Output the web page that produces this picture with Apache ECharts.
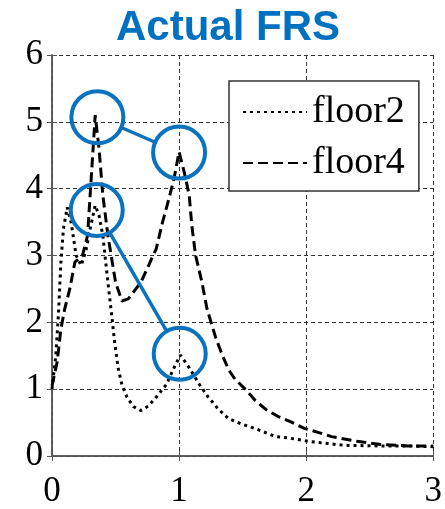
<!DOCTYPE html>
<html>
<head>
<meta charset="utf-8">
<script src="https://cdn.jsdelivr.net/npm/echarts@6/dist/echarts.min.js"></script>
<style>
html,body{margin:0;padding:0;background:#fff;}
#chart{width:445px;height:509px;}
</style>
</head>
<body>
<div id="chart"></div>
<script>
// Period / frequency axis (x) and spectral values (y)
const floor2X = [0, 0.03, 0.05, 0.07, 0.09, 0.12, 0.15, 0.19, 0.23, 0.27, 0.30, 0.34, 0.37, 0.40, 0.44, 0.47, 0.49, 0.52, 0.55, 0.59, 0.64, 0.70, 0.76, 0.82, 0.90, 0.96, 1.01, 1.08, 1.16, 1.23, 1.31, 1.39, 1.49, 1.60, 1.76, 1.86, 2.02, 2.15, 2.30, 2.60, 2.80, 3.00];
const floor2Y = [1.0, 1.5, 2.1, 2.9, 3.4, 3.72, 3.5, 3.0, 2.85, 3.1, 3.4, 3.75, 3.6, 3.3, 2.6, 2.1, 1.75, 1.32, 1.07, 0.88, 0.74, 0.68, 0.75, 0.88, 1.07, 1.32, 1.51, 1.32, 1.07, 0.88, 0.70, 0.56, 0.48, 0.41, 0.29, 0.27, 0.22, 0.19, 0.16, 0.15, 0.15, 0.14];
const floor4X = [0, 0.04, 0.07, 0.10, 0.14, 0.18, 0.24, 0.28, 0.31, 0.34, 0.37, 0.40, 0.44, 0.50, 0.55, 0.60, 0.70, 0.76, 0.82, 0.87, 0.92, 0.96, 1.00, 1.04, 1.08, 1.10, 1.13, 1.18, 1.22, 1.29, 1.34, 1.39, 1.44, 1.52, 1.60, 1.68, 1.78, 1.88, 1.99, 2.10, 2.20, 2.40, 2.60, 2.80, 3.00];
const floor4Y = [1.05, 1.4, 1.9, 2.2, 2.5, 2.9, 3.0, 3.3, 4.2, 5.1, 4.6, 3.9, 3.3, 2.6, 2.32, 2.35, 2.6, 2.85, 3.1, 3.5, 3.85, 4.15, 4.55, 4.25, 3.9, 3.45, 3.0, 2.6, 2.2, 1.76, 1.51, 1.29, 1.15, 1.0, 0.83, 0.70, 0.59, 0.51, 0.41, 0.35, 0.29, 0.22, 0.17, 0.15, 0.15];
const seriesNames = ['floor2', 'floor4'];
const xTicks = [0, 1, 2, 3];
const yTicks = [0, 1, 2, 3, 4, 5, 6];
// Highlight circles: [x1, y1, x2, y2] pairs joined by a connector
const highlightPairs = [
  [0.357, 5.07, 1.0, 4.54],
  [0.352, 3.68, 1.005, 1.53]
];

const pairs = (xs, ys) => xs.map((x, i) => [x, ys[i]]);
const serif = '"Liberation Serif", "DejaVu Serif", serif';
const axisCol = '#555';

const chart = echarts.init(document.getElementById('chart'), null, {renderer: 'canvas'});
chart.setOption({
  animation: false,
  backgroundColor: '#fff',
  title: {
    text: 'Actual FRS',
    left: 116, top: 7, padding: 0,
    textStyle: {color: '#0070C0', fontFamily: '"Liberation Sans", Arial, sans-serif', fontWeight: 'bold', fontSize: 42}
  },
  grid: {left: 52, top: 55, right: 8, bottom: 46, containLabel: false},
  legend: {
    left: 229, top: 81,
    orient: 'vertical',
    data: seriesNames,
    itemWidth: 64, itemHeight: 2, itemGap: 11,
    padding: [11, 14, 8, 13],
    borderColor: '#333', borderWidth: 1.5,
    backgroundColor: '#fff',
    itemStyle: {opacity: 0},
    textStyle: {fontFamily: serif, fontSize: 38, color: '#000', lineHeight: 40}
  },
  xAxis: [{
    type: 'value', min: xTicks[0], max: xTicks[xTicks.length - 1], interval: 1,
    axisLine: {show: true, lineStyle: {color: axisCol, width: 1.5}},
    axisTick: {show: true, inside: true, length: 5, lineStyle: {color: axisCol}},
    axisLabel: {show: true, fontFamily: serif, fontSize: 35, color: '#000', margin: 18},
    splitLine: {show: true, lineStyle: {color: '#333', width: 1, type: [4, 3]}}
  }, {
    type: 'value', position: 'top', min: xTicks[0], max: xTicks[xTicks.length - 1], interval: 1,
    axisLine: {show: true, lineStyle: {color: axisCol, width: 1.5}},
    axisTick: {show: true, inside: true, length: 5, lineStyle: {color: axisCol}},
    axisLabel: {show: false}, splitLine: {show: false}
  }],
  yAxis: [{
    type: 'value', min: yTicks[0], max: yTicks[yTicks.length - 1], interval: 1,
    axisLine: {show: true, lineStyle: {color: axisCol, width: 1.5}},
    axisTick: {show: true, inside: true, length: 5, lineStyle: {color: axisCol}},
    axisLabel: {show: true, fontFamily: serif, fontSize: 35, color: '#000', margin: 9},
    splitLine: {show: true, lineStyle: {color: '#333', width: 1, type: [4, 3]}}
  }, {
    type: 'value', position: 'right', min: yTicks[0], max: yTicks[yTicks.length - 1], interval: 1,
    axisLine: {show: true, lineStyle: {color: axisCol, width: 1.5}},
    axisTick: {show: true, inside: true, length: 5, lineStyle: {color: axisCol}},
    axisLabel: {show: false}, splitLine: {show: false}
  }],
  series: [{
    name: seriesNames[0], type: 'line', data: pairs(floor2X, floor2Y),
    symbol: 'none', smooth: false, z: 3,
    lineStyle: {color: '#000', width: 3, type: [3, 4], cap: 'butt'},
    itemStyle: {color: '#000'}
  }, {
    name: seriesNames[1], type: 'line', data: pairs(floor4X, floor4Y),
    symbol: 'none', smooth: false, z: 3,
    lineStyle: {color: '#000', width: 3, type: [10, 5], cap: 'butt'},
    itemStyle: {color: '#000'}
  }, {
    type: 'custom', z: 5, silent: true,
    data: highlightPairs,
    encode: {x: [0, 2], y: [1, 3]},
    renderItem: function (params, api) {
      const p1 = api.coord([api.value(0), api.value(1)]);
      const p2 = api.coord([api.value(2), api.value(3)]);
      const r = 26;
      const dx = p2[0] - p1[0], dy = p2[1] - p1[1];
      const len = Math.sqrt(dx * dx + dy * dy);
      const ux = dx / len, uy = dy / len;
      const st = {fill: 'none', stroke: '#0A72BE', lineWidth: 4};
      return {
        type: 'group',
        children: [
          {type: 'circle', shape: {cx: p1[0], cy: p1[1], r: r}, style: st},
          {type: 'circle', shape: {cx: p2[0], cy: p2[1], r: r}, style: st},
          {type: 'line', shape: {x1: p1[0] + ux * r, y1: p1[1] + uy * r, x2: p2[0] - ux * r, y2: p2[1] - uy * r}, style: {stroke: '#0A72BE', lineWidth: 3.5}}
        ]
      };
    }
  }]
});
</script>
</body>
</html>
